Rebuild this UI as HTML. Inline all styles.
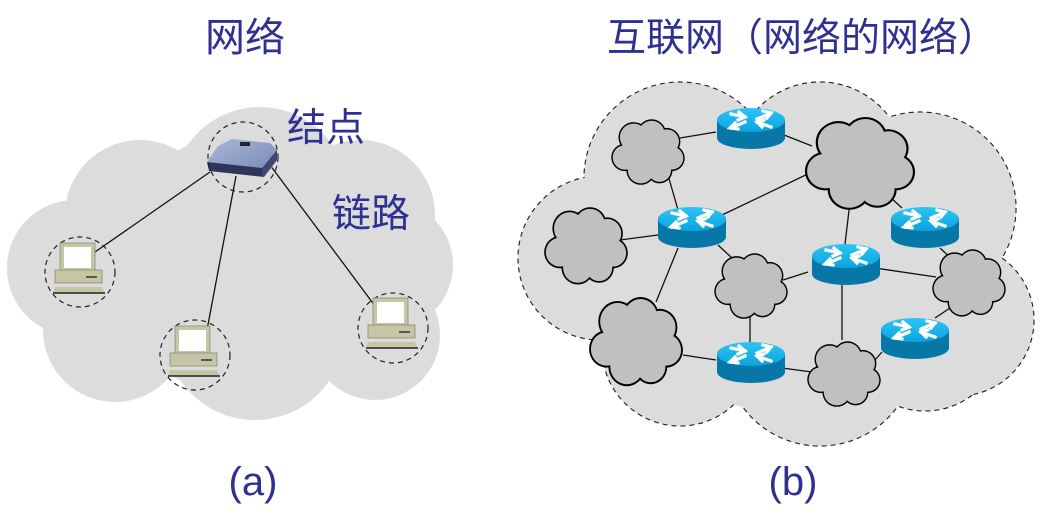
<!DOCTYPE html>
<html><head><meta charset="utf-8"><style>
html,body{margin:0;padding:0;background:#fff;}
svg{display:block;}
text{font-family:"Liberation Sans","Noto Sans CJK SC",sans-serif;fill:#2e3192;}
</style></head><body>
<svg width="1044" height="522" viewBox="0 0 1044 522" xmlns="http://www.w3.org/2000/svg">
<defs>
<linearGradient id="rt" x1="0" y1="0" x2="0" y2="1"><stop offset="0" stop-color="#2ec4f4"/><stop offset="1" stop-color="#0aa4de"/></linearGradient>
<linearGradient id="sw" x1="0" y1="0" x2="1" y2="1"><stop offset="0" stop-color="#aab8d8"/><stop offset="1" stop-color="#7688b4"/></linearGradient>
<g id="router">
<path d="M-34,0 L-34,18 A34,11 0 0 0 34,18 L34,0 Z" fill="#0777a8"/>
<ellipse cx="0" cy="0" rx="34" ry="12" fill="url(#rt)"/>
<g stroke="#fff" stroke-width="3.2" fill="none" stroke-linecap="square">
<path d="M-20,-6 L-6,-3"/><path d="M-12,-8 L-6,-3 L-13,0"/>
<path d="M20,-7 L6,-1"/><path d="M12,-9 L20,-7 L16,-2"/>
<path d="M-20,8 L-6,2"/><path d="M-16,3 L-21,8 L-13,9"/>
<path d="M20,7 L6,2"/><path d="M13,0 L6,2 L11,7"/>
</g>
</g>
<g id="pc">
<rect x="-20" y="-29" width="35" height="28" fill="#c6c6a6" stroke="#8a8a70" stroke-width="0.8"/>
<rect x="-16" y="-25" width="27" height="21" fill="#fff"/>
<rect x="-25" y="-2" width="47" height="13" fill="#c6c6a6" stroke="#8a8a70" stroke-width="0.8"/>
<line x1="6" y1="5" x2="17" y2="5" stroke="#333" stroke-width="1.5"/>
<path d="M-25,15 L22,15 L25,21 L-27,21 Z" fill="#c6c6a6"/>
<line x1="-27" y1="21" x2="25" y2="21" stroke="#222" stroke-width="1.5"/>
</g>
<g id="cl">
<g fill="#000">
<circle cx="30" cy="24" r="21"/><circle cx="55" cy="19" r="20"/><circle cx="76" cy="30" r="19"/><circle cx="83" cy="53" r="18"/><circle cx="66" cy="70" r="18"/><circle cx="40" cy="70" r="20"/><circle cx="18" cy="52" r="19"/>
</g>
<g fill="#c0c0c0">
<circle cx="30" cy="24" r="19"/><circle cx="55" cy="19" r="18"/><circle cx="76" cy="30" r="17"/><circle cx="83" cy="53" r="16"/><circle cx="66" cy="70" r="16"/><circle cx="40" cy="70" r="18"/><circle cx="18" cy="52" r="17"/><circle cx="50" cy="46" r="33"/>
</g>
</g>
</defs>

<!-- (a) cloud -->
<g fill="#dcdcdc">
<circle cx="140" cy="215" r="75"/><circle cx="260" cy="195" r="88"/><circle cx="360" cy="215" r="75"/><circle cx="388" cy="265" r="65"/><circle cx="75" cy="268" r="68"/><circle cx="115" cy="330" r="72"/><circle cx="255" cy="330" r="90"/><circle cx="375" cy="335" r="65"/><circle cx="250" cy="265" r="135"/>
</g>
<g stroke="#111" stroke-width="1.3">
<line x1="210" y1="172" x2="95" y2="252"/>
<line x1="236" y1="176" x2="207" y2="330"/>
<line x1="270" y1="165" x2="378" y2="310"/>
</g>
<!-- switch -->
<path d="M218,146 L232,139 L270,143 L277,150 L272,168 L262,174 L210,168 L207,162 Z" fill="url(#sw)"/>
<rect x="240" y="142" width="10" height="4" fill="#223"/>
<path d="M207,162 L262,168 L264,177 L209,171 Z" fill="#2c3658"/>
<path d="M262,168 L277,150 L277,160 L264,177 Z" fill="#3c4870"/>
<g fill="none" stroke="#222" stroke-width="1.2" stroke-dasharray="5,4">
<circle cx="243" cy="157" r="35"/>
<circle cx="80" cy="272" r="35"/>
<circle cx="195" cy="355" r="35"/>
<circle cx="393" cy="328" r="35"/>
</g>
<use href="#pc" x="80" y="272"/>
<use href="#pc" x="195" y="355"/>
<use href="#pc" x="393" y="327"/>

<text x="245" y="51" font-size="40" text-anchor="middle">网络</text>
<text x="287" y="141" font-size="39">结点</text>
<text x="332" y="227" font-size="39">链路</text>
<text x="253" y="495" font-size="40" text-anchor="middle">(a)</text>
<text x="802" y="51" font-size="39" text-anchor="middle">互联网（网络的网络）</text>
<text x="793" y="495" font-size="40" text-anchor="middle">(b)</text>

<!-- (b) big cloud -->
<g fill="#dcdcdc" stroke="#222" stroke-width="1.2" stroke-dasharray="5,4">
<circle cx="680" cy="178" r="96"/><circle cx="820" cy="168" r="86"/><circle cx="920" cy="208" r="96"/><circle cx="958" cy="320" r="76"/><circle cx="925" cy="333" r="78"/><circle cx="820" cy="350" r="96"/><circle cx="680" cy="348" r="78"/><circle cx="600" cy="258" r="82"/>
</g>
<g fill="#dcdcdc">
<circle cx="680" cy="178" r="95.4"/><circle cx="820" cy="168" r="85.4"/><circle cx="920" cy="208" r="95.4"/><circle cx="958" cy="320" r="75.4"/><circle cx="925" cy="333" r="77.4"/><circle cx="820" cy="350" r="95.4"/><circle cx="680" cy="348" r="77.4"/><circle cx="600" cy="258" r="81.4"/><circle cx="780" cy="262" r="150"/>
</g>
<!-- links -->
<g stroke="#111" stroke-width="1.3">
<line x1="680" y1="138" x2="716" y2="132"/>
<line x1="784" y1="135" x2="812" y2="146"/>
<line x1="668" y1="175" x2="678" y2="210"/>
<line x1="720" y1="216" x2="812" y2="172"/>
<line x1="620" y1="240" x2="658" y2="235"/>
<line x1="718" y1="245" x2="732" y2="258"/>
<line x1="678" y1="248" x2="656" y2="302"/>
<line x1="850" y1="202" x2="845" y2="244"/>
<line x1="890" y1="197" x2="902" y2="208"/>
<line x1="808" y1="272" x2="783" y2="280"/>
<line x1="875" y1="268" x2="936" y2="277"/>
<line x1="940" y1="248" x2="955" y2="262"/>
<line x1="842" y1="285" x2="842" y2="340"/>
<line x1="750" y1="313" x2="750" y2="342"/>
<line x1="683" y1="355" x2="716" y2="360"/>
<line x1="782" y1="368" x2="812" y2="372"/>
<line x1="875" y1="360" x2="882" y2="352"/>
<line x1="935" y1="318" x2="950" y2="308"/>
</g>
<!-- small clouds -->
<use href="#cl" transform="translate(612,120) scale(0.72,0.72)"/>
<use href="#cl" transform="translate(545,208) scale(0.82,0.85)"/>
<use href="#cl" transform="translate(806,118) scale(1.08,1.02)"/>
<use href="#cl" transform="translate(715,254) scale(0.72,0.72)"/>
<use href="#cl" transform="translate(933,250) scale(0.72,0.74)"/>
<use href="#cl" transform="translate(590,298) scale(0.92,0.98)"/>
<use href="#cl" transform="translate(808,342) scale(0.72,0.72)"/>
<!-- routers -->
<use href="#router" x="751" y="120"/>
<use href="#router" x="692" y="219"/>
<use href="#router" x="846" y="256"/>
<use href="#router" x="925" y="219"/>
<use href="#router" x="751" y="354"/>
<use href="#router" x="915" y="330"/>
</svg>
</body></html>
